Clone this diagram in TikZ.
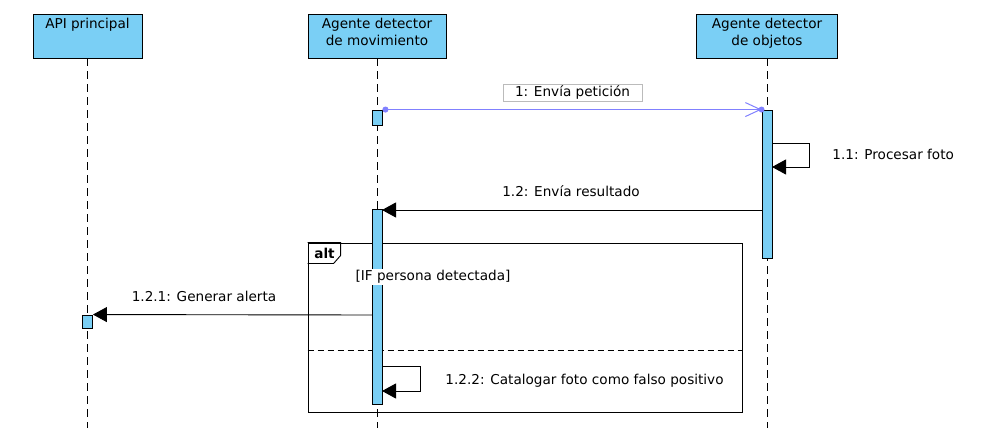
\documentclass[tikz,border=0pt]{standalone}
\usepackage{fontspec}
\setmainfont{DejaVu Sans}
\usetikzlibrary{arrows.meta}
\definecolor{actfill}{HTML}{7ACFF5}
\definecolor{msgblue}{HTML}{8080FF}
\definecolor{lblgray}{HTML}{BBBBBB}
\begin{document}
\begin{tikzpicture}[x=1pt,y=-1pt,line width=0.9pt,
  font=\fontsize{13.6}{16.5}\selectfont,
  hdr/.style={draw, fill=actfill, minimum height=44pt, inner sep=0pt},
  hdrtext/.style={anchor=north, align=center, inner sep=0pt},
  act/.style={draw, fill=actfill, minimum width=10pt, inner sep=0pt},
  lifeline/.style={dash pattern=on 8pt off 5pt},
  msg/.style={-{Triangle[length=14pt,width=15pt]}},
  lbl/.style={inner sep=0pt}]
\fill[white] (0,0) rectangle (988,438);
\useasboundingbox (0,0) rectangle (988,438);

% headers
\node[hdr, minimum width=109pt] (api) at (87.5,36) {};
\node[hdrtext] (apit) at (87.5,18) {API principal};
\node[hdr, minimum width=138pt] (mov) at (377,36) {};
\node[hdrtext] (movt) at (377,18) {Agente detector\\de movimiento};
\node[hdr, minimum width=141pt] (obj) at (767,36) {};
\node[hdrtext] (objt) at (767,18) {Agente detector\\de objetos};

% lifeline ends
\coordinate (apiE) at (87.5,428);
\coordinate (movE) at (377,428);
\coordinate (objE) at (767,428);
\draw[lifeline] (api.south) -- (apiE);
\draw[lifeline] (mov.south) -- (movE);
\draw[lifeline] (obj.south) -- (objE);

% alt frame
\node[draw, minimum width=434pt, minimum height=169pt, inner sep=0pt] (altf) at (525,327.5) {};
\draw[dashed, dash pattern=on 6pt off 4pt] (altf.west |- 0,350) -- (altf.east |- 0,350);
\draw (altf.north west) -- ++(33,0) -- ++(0,13) -- ++(-7,8) -- ++(-26,0);
\node[lbl, font=\fontsize{13.6}{16}\selectfont\bfseries] (altt) at (324.5,253) {alt};

% activations
\node[act, minimum height=15pt] (movA1) at (377,117.5) {};
\node[act, minimum height=148pt] (objA) at (767,184) {};
\node[act, minimum height=195pt] (movA2) at (377,306.5) {};
\node[act, minimum height=13pt] (apiA) at (87.5,321.5) {};

\node[fill=white, inner sep=1pt] (cond) at (433,277) {[IF persona detectada]};

% message 1
\draw[msgblue, line width=1pt, {Circle[length=6pt]}-{Straight Barb[length=15pt,width=14pt]}] (movA1.north east) -- (objA.north west);
\fill[msgblue] (objA.north west) circle (3pt);
\node[draw=lblgray, line width=0.8pt, minimum width=139pt, minimum height=17pt, inner sep=0pt] (l1) at (572.5,92.5) {1: Envía petición};

% 1.1 self
\coordinate (s11a) at (772,143);
\coordinate (s11b) at (772,167);
\draw[msg] (s11a) -- ++(37,0) |- (s11b);
\node[lbl, anchor=west] (l11) at (832,154) {1.1: Procesar foto};

% 1.2
\coordinate (m12s) at (762,210);
\coordinate (m12e) at (382,210);
\draw[msg] (m12s) -- (m12e);
\node[lbl] (l12) at (571,191) {1.2: Envía resultado};

% 1.2.1
\coordinate (m121s) at (372,315);
\draw[msg] (m121s) -- (apiA.north east);
\node[lbl] (l121) at (204,296) {1.2.1: Generar alerta};

% 1.2.2 self
\coordinate (s122a) at (382,366);
\coordinate (s122b) at (382,391);
\draw[msg] (s122a) -- ++(38,0) |- (s122b);
\node[lbl, anchor=west] (l122) at (445,381) {1.2.2: Catalogar foto como falso positivo};
\end{tikzpicture}
\end{document}
